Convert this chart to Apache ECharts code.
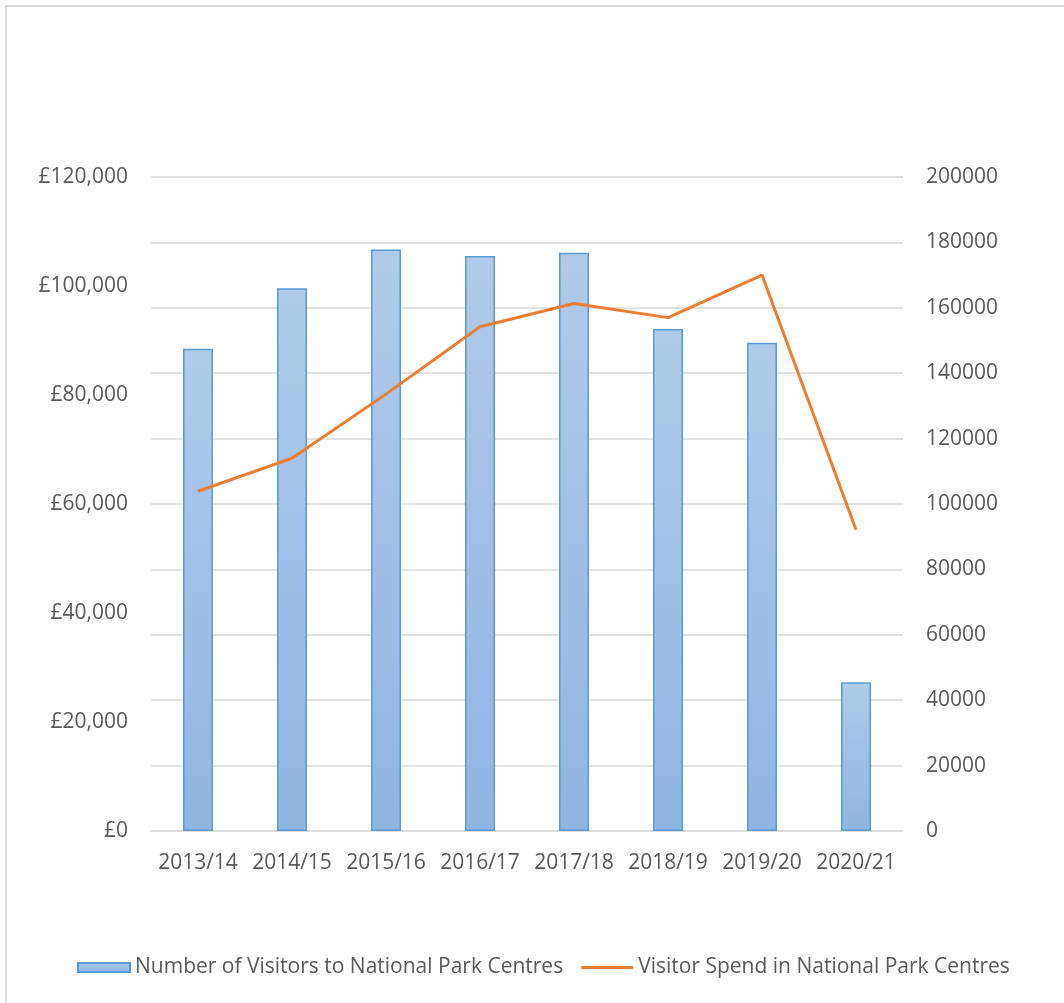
<!DOCTYPE html>
<html>
<head>
<meta charset="utf-8">
<script src="https://cdn.jsdelivr.net/npm/echarts@6/dist/echarts.min.js"></script>
<style>
  html, body { margin: 0; padding: 0; background: #fff; }
  #main { width: 1064px; height: 1003px; }
</style>
</head>
<body>
<div id="main"></div>
<script>
// data
var years = ['2013/14', '2014/15', '2015/16', '2016/17', '2017/18', '2018/19', '2019/20', '2020/21'];
var visitors = [88500, 99600, 106700, 105500, 106100, 92100, 89600, 27300];
var spend = [103900, 114000, 133600, 154200, 161300, 157000, 170000, 92100];

var labelFont = { color: '#595959', fontSize: 21, fontFamily: 'Open Sans' };

var myChart = echarts.init(document.getElementById('main'));
myChart.setOption({
    animation: false,
    textStyle: { fontFamily: 'Open Sans' },
    graphic: [{
        type: 'rect',
        shape: { x: 6, y: 6, width: 1200, height: 1200 },
        style: { fill: 'none', stroke: '#d9d9d9', lineWidth: 2 }
    }],
    legend: {
        left: 72,
        top: 952,
        itemWidth: 52,
        itemHeight: 9,
        itemGap: 18,
        textStyle: { color: '#595959', fontSize: 21, fontFamily: 'Open Sans' },
        data: [
            { name: 'Number of Visitors to National Park Centres', icon: 'rect' },
            { name: 'Visitor Spend in National Park Centres', icon: 'path://M0,0H52V3H0Z' }
        ]
    },
    grid: {
        left: 151,
        right: 161,
        top: 177,
        bottom: 172
    },
    xAxis: {
        type: 'category',
        data: years,
        axisTick: { show: false },
        axisLine: { lineStyle: { color: '#d9d9d9', width: 1.5 } },
        axisLabel: Object.assign({ margin: 22, interval: 0 }, labelFont)
    },
    yAxis: [
        {
            type: 'value',
            min: 0,
            max: 120000,
            interval: 20000,
            splitLine: { show: false },
            axisLine: { show: false },
            axisTick: { show: false },
            axisLabel: Object.assign({
                margin: 23,
                formatter: function (v) {
                    return '£' + v.toString().replace(/\B(?=(\d{3})+(?!\d))/g, ',');
                }
            }, labelFont)
        },
        {
            type: 'value',
            min: 0,
            max: 200000,
            interval: 20000,
            splitLine: { lineStyle: { color: '#d9d9d9', width: 1.5 } },
            axisLine: { show: false },
            axisTick: { show: false },
            axisLabel: Object.assign({
                margin: 23,
                formatter: function (v) { return String(v); }
            }, labelFont)
        }
    ],
    series: [
        {
            name: 'Number of Visitors to National Park Centres',
            type: 'bar',
            yAxisIndex: 0,
            barWidth: 30,
            itemStyle: {
                color: new echarts.graphic.LinearGradient(0, 0, 0, 1, [
                    { offset: 0, color: '#b1cae9' },
                    { offset: 1, color: '#8fb4e2' }
                ]),
                borderColor: '#5b9bd5',
                borderWidth: 1.5
            },
            data: visitors
        },
        {
            name: 'Visitor Spend in National Park Centres',
            type: 'line',
            yAxisIndex: 1,
            symbol: 'none',
            lineStyle: { color: '#ed7d31', width: 3 },
            itemStyle: { color: '#ed7d31' },
            data: spend
        }
    ]
});
</script>
</body>
</html>
